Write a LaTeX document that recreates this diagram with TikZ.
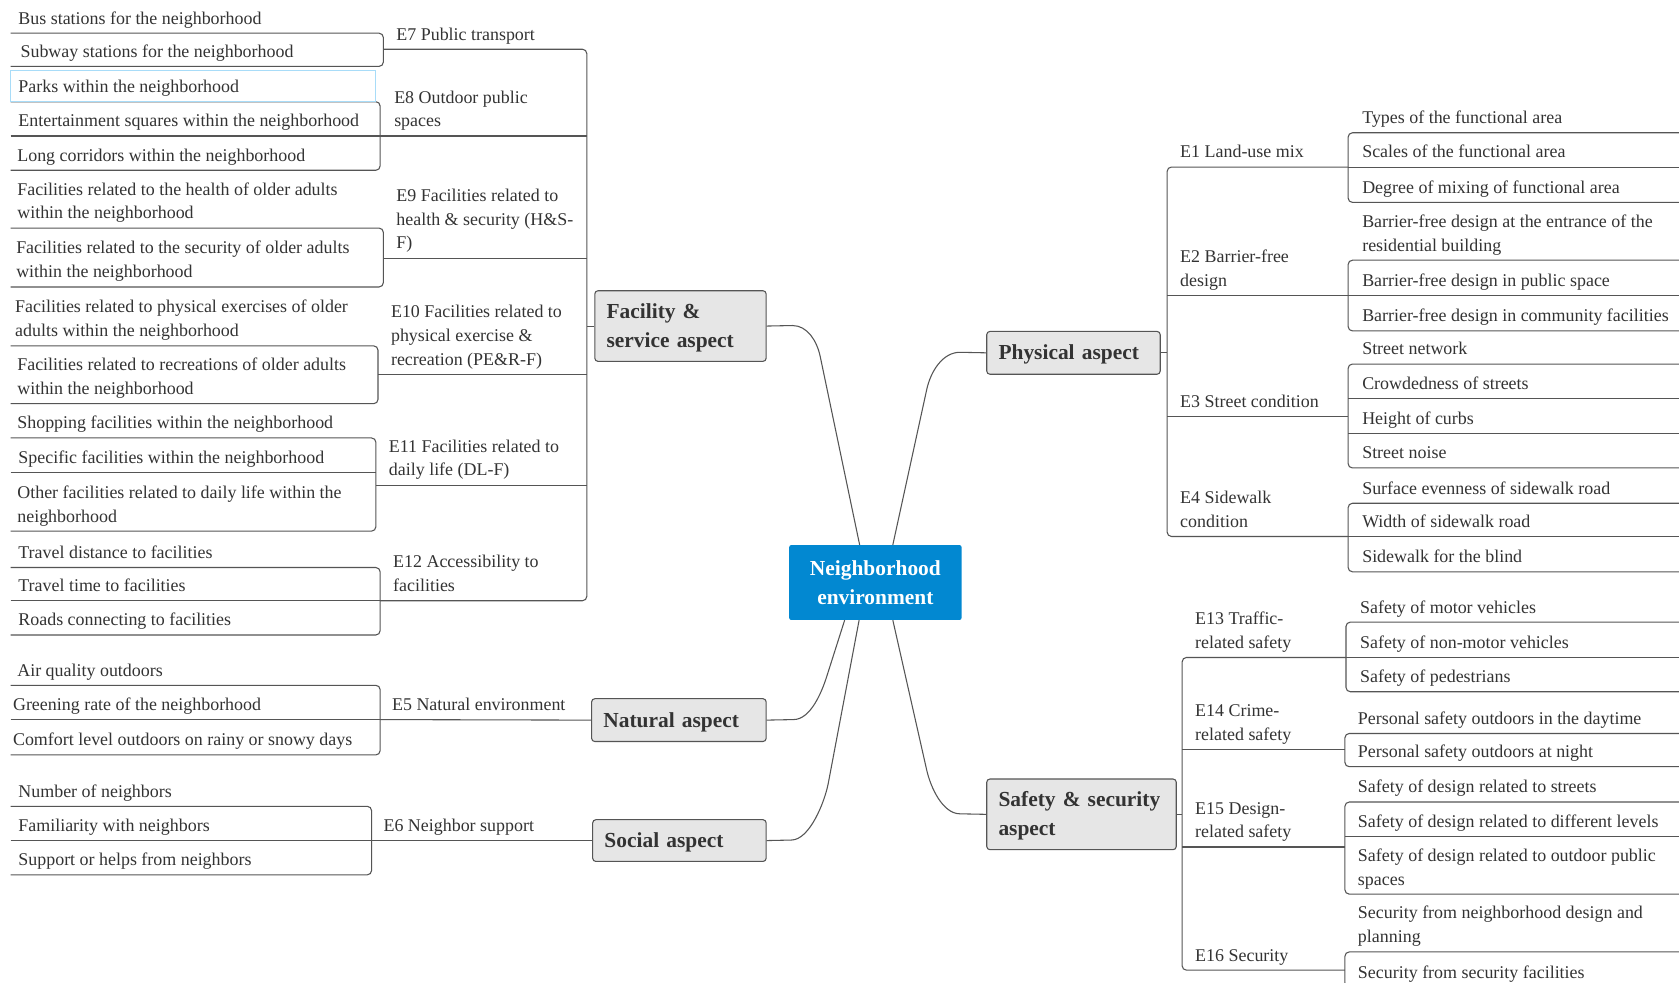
\documentclass[tikz,border=0pt]{standalone}
\usepackage{fontspec}
\setmainfont{Liberation Serif}
\usetikzlibrary{calc}
\definecolor{lncol}{HTML}{555555}
\definecolor{tx}{HTML}{333333}
\definecolor{boxf}{HTML}{E6E6E6}
\definecolor{rootf}{HTML}{0288D1}
\definecolor{selb}{HTML}{A8DCF8}
\newcommand\mlines[1]{\begin{tabular}[b]{@{}l@{}}#1\end{tabular}}
\newcommand\leaffont{\fontsize{16.75}{22.3}\selectfont}
\newcommand\aspfont{\bfseries\fontsize{20}{27}\selectfont}
\tikzset{
 leaf/.style={anchor=base west, inner sep=0pt, font=\leaffont, text=tx},
 conn/.style={draw=lncol, line width=1pt},
 br/.style={conn, rounded corners=4pt},
 aspect/.style={draw=lncol, fill=boxf, line width=1pt, rounded corners=3pt, font=\aspfont, text=tx, align=left, inner xsep=11pt, inner ysep=0pt, anchor=north west},
 one/.style={text height=14pt, text depth=1pt},
 two/.style={text height=41pt, text depth=1pt},
 rootbox/.style={fill=rootf, rounded corners=2pt, font=\aspfont, text=white, align=center, minimum width=161pt, minimum height=70pt},
 selbox/.style={draw=selb, line width=1pt}
}
\newcommand\lleaf[5]{%
  \node[leaf] (#1) at ({#2},{#3-8.5}) {\mlines{#5}};
  \coordinate (#1-o) at (10,#3);
  \coordinate (#1-i) at (#4,#3);}
\newcommand\rleaf[5]{%
  \node[leaf] (#1) at ({#2},{#3-8.5}) {\mlines{#5}};
  \coordinate (#1-i) at (#4,#3);
  \coordinate (#1-o) at (1600,#3);}
\newcommand\elab[6]{%
  \node[leaf] (#1) at ({#2},{#3-8.5}) {\mlines{#6}};
  \coordinate (#1-a) at (#4,#3);
  \coordinate (#1-b) at (#5,#3);}
\begin{document}
\begin{tikzpicture}[x=1pt,y=-1pt]
\useasboundingbox (0,0) rectangle (1568,918);
\fill[white] (0,0) rectangle (1568,918);
\clip (0,0) rectangle (1568,918);

% ---------- left leaves ----------
\lleaf{bus}{17}{31}{358}{Bus stations for the neighborhood}
\lleaf{sub}{19}{62}{358}{Subway stations for the neighborhood}
\lleaf{par}{17}{95}{355}{Parks within the neighborhood}
\lleaf{ent}{17}{127}{355}{Entertainment squares within the neighborhood}
\lleaf{lon}{16}{159}{355}{Long corridors within the neighborhood}
\lleaf{hea}{16}{213}{358}{Facilities related to the health of older adults\\within the neighborhood}
\lleaf{sec}{15}{268}{358}{Facilities related to the security of older adults\\within the neighborhood}
\lleaf{phe}{14}{323}{353}{Facilities related to physical exercises of older\\adults within the neighborhood}
\lleaf{rec}{16}{377}{353}{Facilities related to recreations of older adults\\within the neighborhood}
\lleaf{sho}{16}{409}{351}{Shopping facilities within the neighborhood}
\lleaf{spe}{17}{441}{351}{Specific facilities within the neighborhood}
\lleaf{oth}{16}{496}{351}{Other facilities related to daily life within the\\neighborhood}
\lleaf{dis}{17}{530}{355}{Travel distance to facilities}
\lleaf{tim}{17}{561}{355}{Travel time to facilities}
\lleaf{roa}{17}{593}{355}{Roads connecting to facilities}
\lleaf{air}{16}{640}{355}{Air quality outdoors}
\lleaf{gre}{12}{672}{355}{Greening rate of the neighborhood}
\lleaf{com}{12}{705}{355}{Comfort level outdoors on rainy or snowy days}
\lleaf{num}{17}{753}{347}{Number of neighbors}
\lleaf{fam}{17}{785}{347}{Familiarity with neighbors}
\lleaf{sup}{17}{817}{347}{Support or helps from neighbors}

% ---------- left E labels ----------
\elab{e7}{370}{46}{358}{548}{E7 Public transport}
\elab{e8}{368}{127}{355}{548}{E8 Outdoor public\\spaces}
\elab{e9}{370}{241}{358}{548}{E9 Facilities related to\\health \& security (H\&S-\\F)}
\elab{e10}{365}{350}{353}{548}{E10 Facilities related to\\physical exercise \&\\recreation (PE\&R-F)}
\elab{e11}{363}{453}{351}{548}{E11 Facilities related to\\daily life (DL-F)}
\elab{e12}{367}{561}{355}{548}{E12 Accessibility to\\facilities}
\elab{e5}{366}{672}{355}{552}{E5 Natural environment}
\elab{e6}{358}{785}{347}{553}{E6 Neighbor support}

% ---------- right E labels ----------
\elab{e1}{1102}{156}{1090}{1259}{E1 Land-use mix}
\elab{e2}{1102}{276}{1090}{1259}{E2 Barrier-free\\design}
\elab{e3}{1102}{389}{1090}{1259}{E3 Street condition}
\elab{e4}{1102}{501}{1090}{1259}{E4 Sidewalk\\condition}
\elab{e13}{1116}{614}{1104}{1257}{E13 Traffic-\\related safety}
\elab{e14}{1116}{700}{1104}{1256}{E14 Crime-\\related safety}
\elab{e15}{1116}{791}{1104}{1256}{E15 Design-\\related safety}
\elab{e16}{1116}{906}{1104}{1256}{E16 Security}

% ---------- right leaves ----------
\rleaf{typ}{1272}{124}{1259}{Types of the functional area}
\rleaf{sca}{1272}{156}{1259}{Scales of the functional area}
\rleaf{deg}{1272}{189}{1259}{Degree of mixing of functional area}
\rleaf{bfe}{1272}{243}{1259}{Barrier-free design at the entrance of the\\residential building}
\rleaf{bfp}{1272}{276}{1259}{Barrier-free design in public space}
\rleaf{bfc}{1272}{309}{1259}{Barrier-free design in community facilities}
\rleaf{stn}{1272}{340}{1259}{Street network}
\rleaf{cro}{1272}{372}{1259}{Crowdedness of streets}
\rleaf{hei}{1272}{405}{1259}{Height of curbs}
\rleaf{noi}{1272}{437}{1259}{Street noise}
\rleaf{sur}{1272}{470}{1259}{Surface evenness of sidewalk road}
\rleaf{wid}{1272}{501}{1259}{Width of sidewalk road}
\rleaf{bli}{1272}{534}{1259}{Sidewalk for the blind}
\rleaf{mot}{1270}{581}{1257}{Safety of motor vehicles}
\rleaf{nmo}{1270}{614}{1257}{Safety of non-motor vehicles}
\rleaf{ped}{1270}{646}{1257}{Safety of pedestrians}
\rleaf{day}{1268}{685}{1256}{Personal safety outdoors in the daytime}
\rleaf{nig}{1268}{716}{1256}{Personal safety outdoors at night}
\rleaf{dst}{1268}{749}{1256}{Safety of design related to streets}
\rleaf{dlv}{1268}{781}{1256}{Safety of design related to different levels}
\rleaf{dop}{1268}{835}{1256}{Safety of design related to outdoor public\\spaces}
\rleaf{spl}{1268}{889}{1256}{Security from neighborhood design and\\planning}
\rleaf{sfa}{1268}{922}{1256}{Security from security facilities}

% ---------- aspect boxes and root ----------
\node[aspect, two, text width=138pt, minimum height=66pt] (fac) at (555,271) {\mlines{Facility \&\\service aspect}};
\node[aspect, one, text width=140pt, minimum height=40pt] (phy) at (921,309) {\mlines{Physical aspect}};
\node[aspect, one, text width=141pt, minimum height=40pt] (nat) at (552,652) {\mlines{Natural aspect}};
\node[aspect, one, text width=140pt, minimum height=39pt] (soc) at (553,765) {\mlines{Social aspect}};
\node[aspect, two, text width=155pt, minimum height=66pt] (saf) at (921,727) {\mlines{Safety \& security\\aspect}};
\node[rootbox] (root) at (817.5,544) {Neighborhood\\environment};
\coordinate (rfac) at ([xshift=66pt]root.north west);
\coordinate (rphy) at ([xshift=97pt]root.north west);
\coordinate (rnat) at ([xshift=52pt]root.south west);
\coordinate (rsoc) at ([xshift=65.5pt]root.south west);
\coordinate (rsaf) at ([xshift=97pt]root.south west);

% ---------- left brackets ----------
\draw[br] (bus-o) -- (bus-i) -- (sub-i) -- (sub-o);
\draw[br] (par-o) -- (par-i) -- (lon-i) -- (lon-o);
\draw[conn] (ent-o) -- (ent-i);
\draw[br] (hea-o) -- (hea-i) -- (sec-i) -- (sec-o);
\draw[br] (phe-o) -- (phe-i) -- (rec-i) -- (rec-o);
\draw[br] (sho-o) -- (sho-i) -- (oth-i) -- (oth-o);
\draw[conn] (spe-o) -- (spe-i);
\draw[br] (dis-o) -- (dis-i) -- (roa-i) -- (roa-o);
\draw[conn] (tim-o) -- (tim-i);
\draw[br] (e7-a) -- (e7-b) -- (e12-b) -- (e12-a);
\foreach \n in {e8,e9,e10,e11} \draw[conn] (\n-a) -- (\n-b);
\draw[conn] (fac.west) -- (fac.west -| e7-b);
\draw[br] (air-o) -- (air-i) -- (com-i) -- (com-o);
\draw[conn] (gre-o) -- (gre-i);
\draw[conn] (e5-a) -- (nat.west);
\draw[br] (num-o) -- (num-i) -- (sup-i) -- (sup-o);
\draw[conn] (fam-o) -- (fam-i);
\draw[conn] (e6-a) -- (soc.west);

% ---------- right brackets ----------
\draw[br] (typ-o) -- (typ-i) -- (deg-i) -- (deg-o);
\draw[conn] (sca-i) -- (sca-o);
\draw[br] (bfe-o) -- (bfe-i) -- (bfc-i) -- (bfc-o);
\draw[conn] (bfp-i) -- (bfp-o);
\draw[br] (stn-o) -- (stn-i) -- (noi-i) -- (noi-o);
\draw[conn] (cro-i) -- (cro-o);
\draw[conn] (hei-i) -- (hei-o);
\draw[br] (sur-o) -- (sur-i) -- (bli-i) -- (bli-o);
\draw[conn] (wid-i) -- (wid-o);
\draw[br] (e1-b) -- (e1-a) -- (e4-a) -- (e4-b);
\draw[conn] (e2-a) -- (e2-b);
\draw[conn] (e3-a) -- (e3-b);
\draw[conn] (phy.east) -- (phy.east -| e1-a);
\draw[br] (mot-o) -- (mot-i) -- (ped-i) -- (ped-o);
\draw[conn] (nmo-i) -- (nmo-o);
\draw[br] (day-o) -- (day-i) -- (nig-i) -- (nig-o);
\draw[br] (dst-o) -- (dst-i) -- (dop-i) -- (dop-o);
\draw[conn] (dlv-i) -- (dlv-o);
\draw[br] (spl-o) -- (spl-i) -- (sfa-i) -- (sfa-o);
\draw[br] (e13-b) -- (e13-a) -- (e16-a) -- (e16-b);
\draw[conn] (e14-a) -- (e14-b);
\draw[conn] (e15-a) -- (e15-b);
\draw[conn] (saf.east) -- (saf.east -| e13-a);

% ---------- curves to root ----------
\draw[conn] (fac.east) -- (740,304) .. controls (754,304) and (762.9,318.3) .. (766,333) -- (rfac);
\draw[conn] (rphy) -- (865.4,364) .. controls (869.2,346.4) and (880.5,329) .. (896.5,329) -- (phy.west);
\draw[conn] (nat.east) -- (741,672) .. controls (757,672) and (767.4,646.3) .. (772,632) -- (rnat);
\draw[conn] (soc.east) -- (739,784.5) .. controls (756,784.5) and (770.1,749.2) .. (773.5,731.5) -- (rsoc);
\draw[conn] (rsaf) -- (865.4,719) .. controls (869.1,735.6) and (880.5,760) .. (896.5,760) -- (saf.west);

% selection highlight round "Parks"
\draw[selbox] (10,66) rectangle (351,95);
\end{tikzpicture}
\end{document}
